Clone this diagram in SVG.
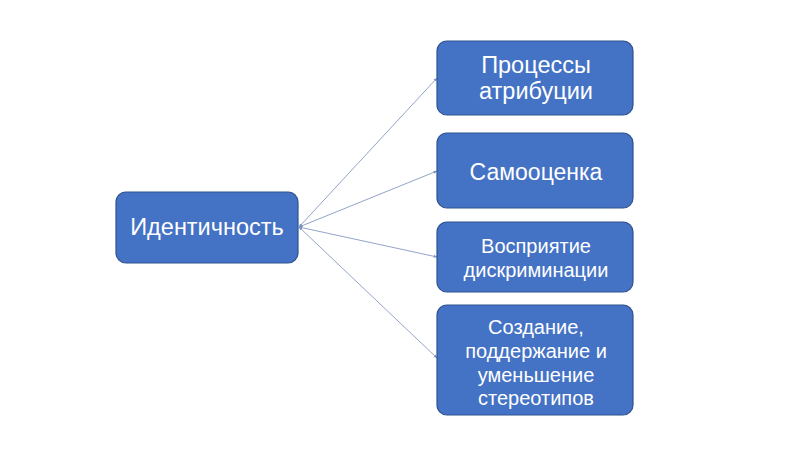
<svg xmlns="http://www.w3.org/2000/svg" width="800" height="450" viewBox="0 0 800 450">
<defs>
<style>
.box{fill:#4472C4;stroke:#2F528F;stroke-width:1.2}
.t{fill:#FFFFFF;font-family:"Liberation Sans",Arial,sans-serif;text-anchor:middle}
.c{stroke:#93A4C9;stroke-width:1;fill:none;marker-start:url(#ah);marker-end:url(#ah)}
</style>
<marker id="ah" viewBox="0 0 4 4" refX="3.5" refY="2" markerWidth="4" markerHeight="4" orient="auto-start-reverse" markerUnits="userSpaceOnUse">
<path d="M0,0.5 L4,2 L0,3.5 z" fill="#7D91C0"/>
</marker>
</defs>
<rect width="800" height="450" fill="#FFFFFF"/>
<g id="connectors">
<line class="c" x1="299" y1="227" x2="437" y2="78"/>
<line class="c" x1="299" y1="227" x2="437" y2="171"/>
<line class="c" x1="299" y1="227" x2="437" y2="257"/>
<line class="c" x1="299" y1="227" x2="437" y2="358"/>
</g>
<g id="identity">
<rect class="box" x="116" y="192" width="182" height="71" rx="10"/>
<text class="t" x="207" y="235" font-size="23.5">Идентичность</text>
</g>
<g id="attribution">
<rect class="box" x="437" y="41" width="196" height="74" rx="10"/>
<text class="t" x="536" y="73" font-size="23.5">Процессы</text>
<text class="t" x="536" y="99" font-size="23.5">атрибуции</text>
</g>
<g id="selfesteem">
<rect class="box" x="437" y="133" width="196" height="75" rx="10"/>
<text class="t" x="536" y="180" font-size="23">Самооценка</text>
</g>
<g id="discrimination">
<rect class="box" x="437" y="222" width="196" height="70" rx="10"/>
<text class="t" x="536" y="253" font-size="20">Восприятие</text>
<text class="t" x="536" y="277" font-size="20">дискриминации</text>
</g>
<g id="stereotypes">
<rect class="box" x="437" y="305" width="196" height="110" rx="10"/>
<text class="t" x="536" y="334" font-size="20">Создание,</text>
<text class="t" x="536" y="358" font-size="20">поддержание и</text>
<text class="t" x="536" y="382" font-size="20">уменьшение</text>
<text class="t" x="536" y="405" font-size="20">стереотипов</text>
</g>
</svg>
